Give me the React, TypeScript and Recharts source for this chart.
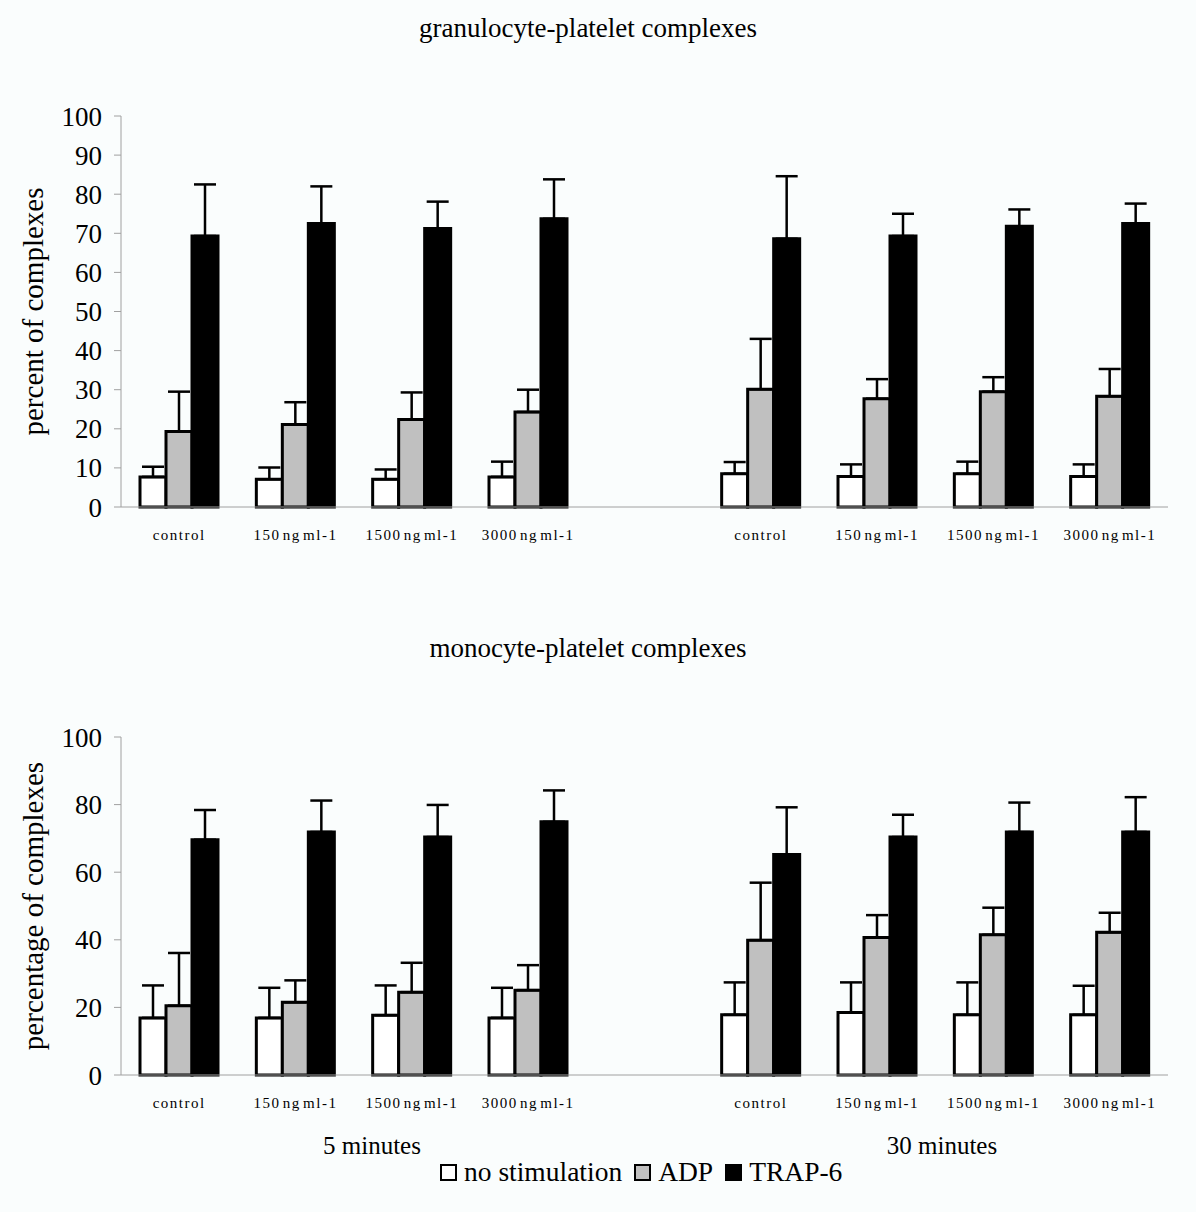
// Platelet complexes — two grouped bar panels (granulocyte / monocyte)
// with upward-only SD error bars and a shared legend.

import React from 'react'
import { BarChart, Bar, XAxis, YAxis, ErrorBar, Label } from 'recharts'

const FONT = '"Liberation Serif", "Times New Roman", serif'
const BG = '#fafdfd'

// 9 slots: 4 doses at 5 min, an empty spacer, 4 doses at 30 min
const categories = [
  'control', '150 ng ml-1', '1500 ng ml-1', '3000 ng ml-1', '',
  'control', '150 ng ml-1', '1500 ng ml-1', '3000 ng ml-1',
]

// granulocyte-platelet complexes (%)
const granNone = [7.7, 7.1, 7.1, 7.7, null, 8.5, 7.8, 8.5, 7.8]
const granNoneSd = [2.6, 3.0, 2.5, 3.9, null, 3.0, 3.1, 3.1, 3.1]
const granAdp = [19.3, 21.1, 22.4, 24.3, null, 30.1, 27.7, 29.5, 28.3]
const granAdpSd = [10.2, 5.7, 6.9, 5.7, null, 12.9, 5.0, 3.7, 7.0]
const granTrap = [69.3, 72.5, 71.2, 73.7, null, 68.6, 69.3, 71.8, 72.5]
const granTrapSd = [13.2, 9.5, 6.9, 10.1, null, 16.0, 5.7, 4.3, 5.1]

// monocyte-platelet complexes (%)
const monoNone = [16.9, 16.9, 17.7, 16.9, null, 17.8, 18.5, 17.8, 17.8]
const monoNoneSd = [9.6, 8.9, 8.8, 8.9, null, 9.6, 8.9, 9.6, 8.6]
const monoAdp = [20.5, 21.5, 24.5, 25.1, null, 39.9, 40.7, 41.5, 42.2]
const monoAdpSd = [15.6, 6.5, 8.7, 7.4, null, 17.0, 6.6, 8.0, 5.8]
const monoTrap = [69.6, 71.9, 70.4, 74.9, null, 65.2, 70.4, 71.9, 71.9]
const monoTrapSd = [8.8, 9.3, 9.5, 9.3, null, 14.0, 6.6, 8.7, 10.3]

const granTicks = [0, 10, 20, 30, 40, 50, 60, 70, 80, 90, 100]
const monoTicks = [0, 20, 40, 60, 80, 100]

const SERIES = [
  { key: 'none', name: 'no stimulation', fill: '#ffffff' },
  { key: 'adp', name: 'ADP', fill: '#c0c0c0' },
  { key: 'trap', name: 'TRAP-6', fill: '#000000' },
]

type Num = number | null

function buildRows(
  none: Num[], noneSd: Num[], adp: Num[], adpSd: Num[], trap: Num[], trapSd: Num[],
) {
  // error bars point up only: [low, high] = [0, sd]
  const up = (v: Num) => (v == null ? null : [0, v])
  return categories.map((cat, i) => ({
    cat,
    none: none[i], noneErr: up(noneSd[i]),
    adp: adp[i], adpErr: up(adpSd[i]),
    trap: trap[i], trapErr: up(trapSd[i]),
  }))
}

const granRows = buildRows(granNone, granNoneSd, granAdp, granAdpSd, granTrap, granTrapSd)
const monoRows = buildRows(monoNone, monoNoneSd, monoAdp, monoAdpSd, monoTrap, monoTrapSd)

interface PanelProps {
  rows: ReturnType<typeof buildRows>
  ticks: number[]
  yLabel: string
  height: number
  top: number
  xAxisHeight: number
}

function Panel({ rows, ticks, yLabel, height, top, xAxisHeight }: PanelProps) {
  return (
    <BarChart
      width={1196}
      height={height}
      data={rows}
      margin={{ top, right: 28, left: 0, bottom: 0 }}
      barGap={0}
      style={{ fontFamily: FONT }}
    >
      <XAxis
        dataKey="cat"
        interval={0}
        height={xAxisHeight}
        stroke="#a0a0a0"
        tickLine={false}
        tickSize={8}
        tickMargin={14}
        tick={{
          fontSize: 15,
          fill: '#000',
          letterSpacing: 1.5,
          wordSpacing: -3,
          fontFamily: FONT,
        }}
      />
      <YAxis
        width={121}
        domain={[0, 100]}
        ticks={ticks}
        interval={0}
        stroke="#a0a0a0"
        tickSize={7}
        tickMargin={12}
        tick={{ fontSize: 27, fill: '#000', fontFamily: FONT }}
      >
        <Label
          value={yLabel}
          angle={-90}
          position="center"
          dx={-28}
          style={{ fontSize: 29, fill: '#000', fontFamily: FONT }}
        />
      </YAxis>
      {SERIES.map((s) => (
        <Bar
          key={s.key}
          dataKey={s.key}
          name={s.name}
          fill={s.fill}
          stroke="#000"
          strokeWidth={3}
          barSize={26}
          isAnimationActive={false}
        >
          <ErrorBar
            dataKey={`${s.key}Err`}
            direction="y"
            width={11}
            stroke="#000"
            strokeWidth={2.5}
          />
        </Bar>
      ))}
    </BarChart>
  )
}

const titleStyle: React.CSSProperties = {
  position: 'absolute',
  left: 0,
  width: 1176,
  textAlign: 'center',
  fontFamily: FONT,
  fontSize: 27,
  lineHeight: '30px',
  color: '#000',
  whiteSpace: 'nowrap',
}

function LegendSwatch({ fill }: { fill: string }) {
  return (
    <span
      style={{
        display: 'inline-block',
        width: 13,
        height: 13,
        background: fill,
        border: '2px solid #000',
        marginRight: 7,
        verticalAlign: 'middle',
        position: 'relative',
        top: -2,
      }}
    />
  )
}

export default function App() {
  return (
    <div
      style={{
        position: 'absolute',
        left: 0,
        top: 0,
        width: 1196,
        height: 1212,
        background: BG,
        fontFamily: FONT,
      }}
    >
      <div style={{ ...titleStyle, top: 13 }}>granulocyte-platelet complexes</div>
      <div style={{ position: 'absolute', left: 0, top: 0 }}>
        <Panel rows={granRows} ticks={granTicks} yLabel="percent of complexes"
          height={560} top={116} xAxisHeight={53} />
      </div>

      <div style={{ ...titleStyle, top: 633 }}>monocyte-platelet complexes</div>
      <div style={{ position: 'absolute', left: 0, top: 600 }}>
        <Panel rows={monoRows} ticks={monoTicks} yLabel="percentage of complexes"
          height={530} top={137} xAxisHeight={55} />
      </div>

      <div style={{ ...titleStyle, fontSize: 25, left: 272, width: 200, top: 1131 }}>
        5 minutes
      </div>
      <div style={{ ...titleStyle, fontSize: 25, left: 842, width: 200, top: 1131 }}>
        30 minutes
      </div>

      <div
        style={{
          position: 'absolute',
          left: 440,
          top: 1157,
          fontSize: 27.5,
          lineHeight: '30px',
          whiteSpace: 'nowrap',
          color: '#000',
        }}
      >
        {SERIES.map((s) => (
          <span key={s.key} style={{ marginRight: 12 }}>
            <LegendSwatch fill={s.fill} />
            {s.name}
          </span>
        ))}
      </div>
    </div>
  )
}
